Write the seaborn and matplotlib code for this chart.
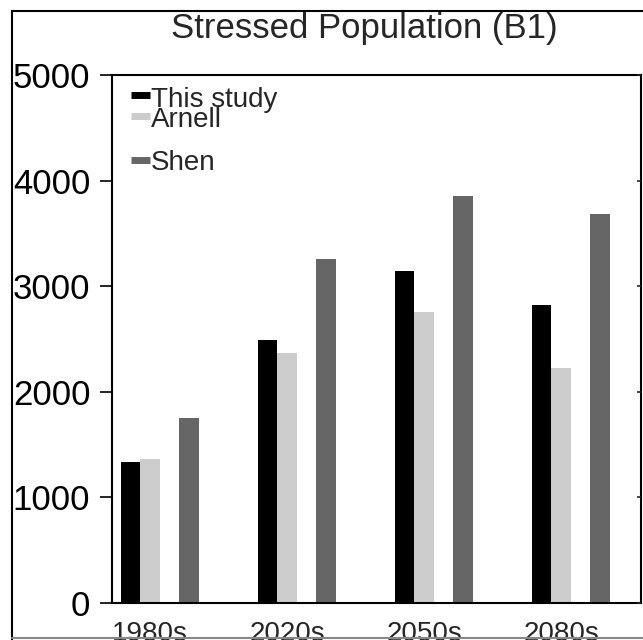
import matplotlib
matplotlib.use("Agg")
import matplotlib.pyplot as plt
from matplotlib.lines import Line2D
import seaborn as sns
import pandas as pd

periods = ["1980s", "2020s", "2050s", "2080s"]
this_study = [1335, 2495, 3140, 2822]
arnell = [1362, 2365, 2752, 2222]
shen = [1750, 3258, 3852, 3683]
series_names = ["This study", "Arnell", "Shen"]
yticks = [0, 1000, 2000, 3000, 4000, 5000]

colors = {"This study": "#000000", "Arnell": "#cccccc", "_gap": "#ffffff", "Shen": "#666666"}
hue_order = ["This study", "Arnell", "_gap", "Shen"]

rows = []
for name, vals in zip(series_names, [this_study, arnell, shen]):
    for p, v in zip(periods, vals):
        rows.append({"period": p, "series": name, "value": v})
df = pd.DataFrame(rows)

sns.set_style("white")
plt.rcParams["font.family"] = ["Liberation Sans", "DejaVu Sans"]

W, H = 643, 640
fig = plt.figure(figsize=(W / 100, H / 100), dpi=100)
ax = fig.add_axes([112 / W, 1 - 603 / H, (641 - 112) / W, (603 - 75) / H])

sns.barplot(data=df, x="period", y="value", hue="series", hue_order=hue_order,
            order=periods, palette=colors, width=0.569, linewidth=0,
            legend=False, ax=ax)

ax.set_xlim(-0.350, 3.511)
ax.set_ylim(0, 5000)
ax.set_yticks(yticks)
ax.set_yticklabels([str(t) for t in yticks], fontsize=25)
ax.set_xticks([i - 0.071 for i in range(len(periods))])
ax.set_xticklabels(periods, fontsize=20)
ax.set_xlabel("")
ax.set_ylabel("")
ax.tick_params(axis="y", direction="out", length=8.6, width=1.2, pad=7, left=True, colors="black")
ax.tick_params(axis="x", length=0, pad=13)
for s in ax.spines.values():
    s.set_visible(True)
    s.set_color("black")
    s.set_linewidth(1.5)

ax2 = ax.twinx()
ax2.set_ylim(0, 5000)
ax2.set_yticks(yticks)
ax2.tick_params(axis="y", direction="in", length=3, width=1.2, labelright=False, right=True)
for s in ax2.spines.values():
    s.set_visible(False)

# Title
fig.text(364 / W, 1 - 38 / H, "Stressed Population (B1)", fontsize=25,
         ha="center", va="baseline")

# Manual legend
def fx(x):
    return x / W

def fy(y):
    return 1 - y / H

legend_items = [("This study", 95, 107), ("Arnell", 116, 127), ("Shen", 159.5, 170)]
for name, hy, ty in legend_items:
    fig.add_artist(Line2D([fx(131), fx(150)], [fy(hy), fy(hy)], color=colors[name],
                          linewidth=5, solid_capstyle="butt", transform=fig.transFigure))
    fig.text(fx(151), fy(ty), name, fontsize=20, ha="left", va="baseline")

# Figure frame
fig.add_artist(Line2D([fx(12), fx(12)], [fy(11), fy(640)], color="black", linewidth=1.5,
                      transform=fig.transFigure))
fig.add_artist(Line2D([fx(12), fx(643)], [fy(11), fy(11)], color="black", linewidth=1.5,
                      transform=fig.transFigure))
fig.add_artist(Line2D([fx(12), fx(643)], [fy(638), fy(638)], color="#888888", linewidth=1.5,
                      transform=fig.transFigure))

fig.savefig("out.png", dpi=100)
